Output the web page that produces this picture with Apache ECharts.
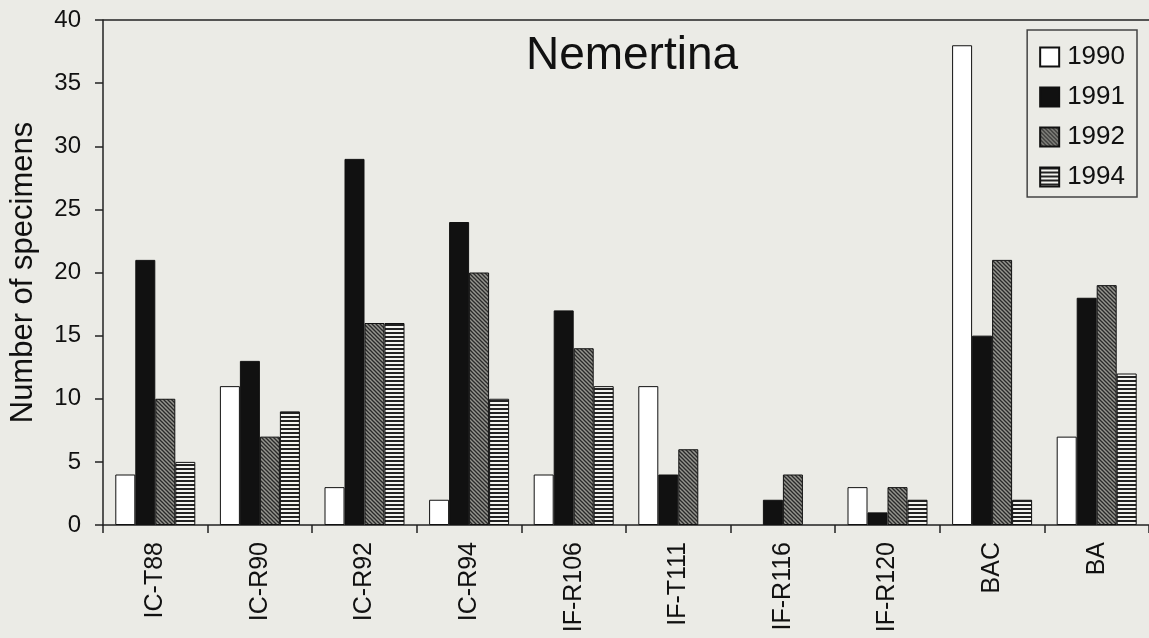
<!DOCTYPE html>
<html><head><meta charset="utf-8">
<script src="https://cdn.jsdelivr.net/npm/echarts@6/dist/echarts.min.js"></script>
<style>html,body{margin:0;padding:0;background:#ebebe6;}#c{width:1149px;height:638px;}</style>
</head><body><div id="c"></div>
<script>
const categories = ['IC-T88','IC-R90','IC-R92','IC-R94','IF-R106','IF-T111','IF-R116','IF-R120','BAC','BA'];
const years = ['1990','1991','1992','1994'];
const v1990 = [4, 11, 3, 2, 4, 11, 0, 3, 38, 7];
const v1991 = [21, 13, 29, 24, 17, 4, 2, 1, 15, 18];
const v1992 = [10, 7, 16, 20, 14, 6, 4, 3, 21, 19];
const v1994 = [5, 9, 16, 10, 11, 0, 0, 2, 2, 12];
const yTicks = [0,5,10,15,20,25,30,35,40];

function diagPattern(){
  const c = document.createElement('canvas'); c.width = 4; c.height = 4;
  const g = c.getContext('2d');
  g.fillStyle = '#95958f'; g.fillRect(0,0,4,4);
  g.strokeStyle = '#2a2a2a'; g.lineWidth = 1.3;
  g.beginPath(); g.moveTo(-1,-1); g.lineTo(5,5); g.stroke();
  g.beginPath(); g.moveTo(-1,3); g.lineTo(1,5); g.stroke();
  g.beginPath(); g.moveTo(3,-1); g.lineTo(5,1); g.stroke();
  return c;
}
function hPattern(){
  const c = document.createElement('canvas'); c.width = 4; c.height = 4;
  const g = c.getContext('2d');
  g.fillStyle = '#f4f4f0'; g.fillRect(0,0,4,4);
  g.fillStyle = '#222'; g.fillRect(0,0,4,2);
  return c;
}
const fills = ['#ffffff', '#111111', {image: diagPattern(), repeat:'repeat'}, {image: hPattern(), repeat:'repeat'}];
const data = [v1990, v1991, v1992, v1994];
const FONT = 'Liberation Sans, Arial, sans-serif';

const chart = echarts.init(document.getElementById('c'), null, {renderer:'canvas'});
chart.setOption({
  backgroundColor: '#ebebe6',
  animation: false,
  title: {text:'Nemertina', left: 627, top: 28, textAlign:'center',
    textStyle:{fontFamily:FONT, fontSize:46, fontWeight:'normal', color:'#111'}},
  legend: {
    orient:'vertical', right: 12, top: 30, data: years,
    itemWidth: 19, itemHeight: 19, itemGap: 14,
    padding: [14, 12, 7, 12],
    borderColor:'#444', borderWidth: 1.5, backgroundColor:'#ebebe6',
    textStyle:{fontFamily:FONT, fontSize:26, color:'#111', padding:[0,0,0,3]},
    icon: 'rect'
  },
  grid: {left: 103, top: 20, width: 1050, height: 505, containLabel:false},
  xAxis: {
    type:'category', data: categories,
    axisLine:{lineStyle:{color:'#222', width:1.5}},
    axisTick:{show:true, alignWithLabel:false, length:8, lineStyle:{color:'#222', width:1.5}},
    axisLabel:{rotate:90, fontFamily:FONT, fontSize:25, color:'#111', margin:17}
  },
  yAxis: {
    type:'value', min:0, max:40, interval:5,
    name:'Number of specimens', nameLocation:'middle', nameGap:64,
    nameTextStyle:{fontFamily:FONT, fontSize:31, color:'#111'},
    axisLine:{show:true, lineStyle:{color:'#222', width:1.5}},
    axisTick:{show:true, length:8, lineStyle:{color:'#222', width:1.5}},
    axisLabel:{fontFamily:FONT, fontSize:24, color:'#111', margin:22,
      formatter: v => yTicks.includes(v) ? String(v) : ''},
    splitLine:{show:false}
  },
  graphic: [{type:'line', shape:{x1:103, y1:20, x2:1149, y2:20}, style:{stroke:'#222', lineWidth:1.5}}],
  series: years.map((y, i) => ({
    name: y, type:'bar', barWidth: 20, barGap: '0%',
    data: data[i].map(v => v === 0 ? {value: v, itemStyle:{borderWidth:0, opacity:0}} : v),
    itemStyle:{color: fills[i], borderColor:'#111', borderWidth:1}
  }))
});
</script></body></html>
